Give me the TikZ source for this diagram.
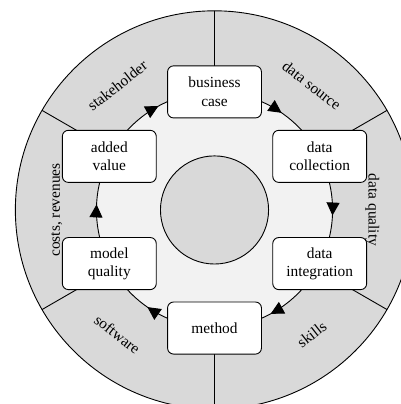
\documentclass[tikz,border=0pt]{standalone}
\usepackage{fontspec}
\setmainfont{Liberation Serif}
\usepackage{tikz}
\usetikzlibrary{
  arrows.meta,
  backgrounds,
  decorations.markings
}
\definecolor{ringgray}{HTML}{D9D9D9}
\definecolor{innergray}{HTML}{F2F2F2}

\tikzset{
  phase/.style={draw,fill=white,rounded corners=6pt,line width=0.9pt,
    minimum width=3.3cm,minimum height=1.83cm,align=center,inner sep=2pt,
    font=\fontsize{15.4}{18.5}\selectfont},
  ringlabel/.style={font=\fontsize{15.4}{18.5}\selectfont,inner sep=0pt},
  flow/.style={line width=0.9pt,postaction={decorate},
    decoration={markings,mark=at position 0.55 with {\arrow{Triangle[length=13pt,width=13pt]}}}}
}

\begin{document}
\begin{tikzpicture}[scale=1.0, thick]
\useasboundingbox (-7.54,-6.82) rectangle (6.55,7.38);
% phases of the cycle
\node[phase] (case) at (90:4.15cm) {business\\case};
\node[phase] (collect) at (27:4.15cm) {data\\collection};
\node[phase] (integr) at (-27:4.15cm) {data\\integration};
\node[phase] (method) at (-90:4.15cm) {method};
\node[phase] (modelq) at (-153:4.15cm) {model\\quality};
\node[phase] (addval) at (153:4.15cm) {added\\value};
% labels in the outer ring
\node[ringlabel,rotate=-38] (lsrc) at (52:5.55cm) {data source};
\node[ringlabel,rotate=-90] (lqual) at (0:5.55cm) {data quality};
\node[ringlabel,rotate=38] (lskill) at (-52:5.55cm) {skills};
\node[ringlabel,rotate=-38] (lsoft) at (-128:5.55cm) {software};
\node[ringlabel,rotate=90] (lcost) at (180:5.55cm) {costs, revenues};
\node[ringlabel,rotate=38] (lstake) at (128:5.55cm) {stakeholder};
\begin{scope}[on background layer]
\draw[line width=0.9pt,fill=ringgray] (0,0) circle (7cm);
\draw[line width=0.9pt] (30:4.15cm) -- (30:7cm) (90:4.15cm) -- (90:7cm)
  (150:4.15cm) -- (150:7cm) (210:4.15cm) -- (210:7cm)
  (270:4.15cm) -- (270:7cm) (330:4.15cm) -- (330:7cm);
\fill[innergray] (0,0) circle (4.15cm);
\draw[line width=0.9pt,fill=ringgray] (0,0) circle (1.9cm);
% the cycle
\draw[flow] (case.center) arc[start angle=90,end angle=27,radius=4.15cm];
\draw[flow] (collect.center) arc[start angle=27,end angle=-27,radius=4.15cm];
\draw[flow] (integr.center) arc[start angle=-27,end angle=-90,radius=4.15cm];
\draw[flow] (method.center) arc[start angle=-90,end angle=-153,radius=4.15cm];
\draw[flow] (modelq.center) arc[start angle=-153,end angle=-207,radius=4.15cm];
\draw[flow] (addval.center) arc[start angle=153,end angle=90,radius=4.15cm];
\end{scope}
\end{tikzpicture}
\end{document}
